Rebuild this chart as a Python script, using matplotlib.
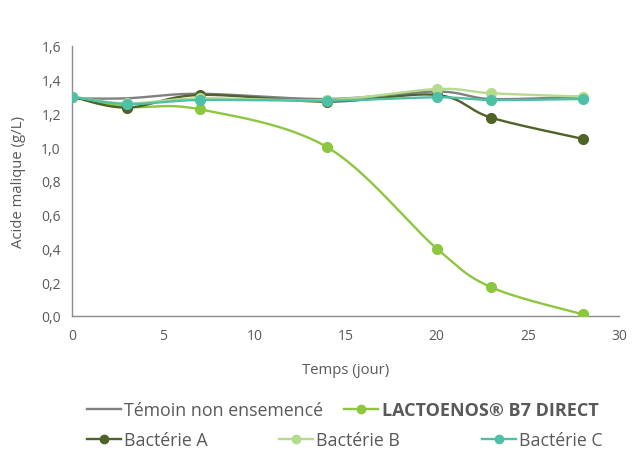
import numpy as np
import matplotlib
matplotlib.use("Agg")
import matplotlib.pyplot as plt
from matplotlib.lines import Line2D

plt.rcParams['font.family'] = ['Open Sans', 'DejaVu Sans']

# data
jours = [0, 3, 7, 14, 20, 23, 28]
temoin = [1.29, 1.29, 1.317, 1.286, 1.33, 1.286, 1.30]
lactoenos = [1.30, 1.24, 1.225, 1.00, 0.40, 0.17, 0.01]
bact_a = [1.30, 1.235, 1.31, 1.27, 1.31, 1.175, 1.05]
bact_b = [1.30, 1.26, 1.29, 1.28, 1.345, 1.32, 1.30]
bact_c = [1.30, 1.256, 1.28, 1.276, 1.296, 1.28, 1.286]

series_names = ["Témoin non ensemencé", "LACTOENOS® B7 DIRECT",
                "Bactérie A", "Bactérie B", "Bactérie C"]
colors = ["#808083", "#8DC63F", "#4F6228", "#B5DB8E", "#4DC0A6"]
text_col = "#595959"


def smooth(x, y, n=30):
    """Excel-like smoothed line (Catmull-Rom as cubic bezier)."""
    x = np.asarray(x, float)
    y = np.asarray(y, float)
    pts = np.column_stack([x, y])
    out = []
    for i in range(len(pts) - 1):
        p0 = pts[i - 1] if i > 0 else pts[i]
        p1 = pts[i]
        p2 = pts[i + 1]
        p3 = pts[i + 2] if i + 2 < len(pts) else pts[i + 1]
        c1 = p1 + (p2 - p0) / 6
        c2 = p2 - (p3 - p1) / 6
        t = np.linspace(0, 1, n)[:, None]
        seg = ((1 - t) ** 3 * p1 + 3 * (1 - t) ** 2 * t * c1
               + 3 * (1 - t) * t ** 2 * c2 + t ** 3 * p2)
        out.append(seg if i == 0 else seg[1:])
    seg = np.vstack(out)
    return seg[:, 0], seg[:, 1]


fig = plt.figure(figsize=(6.32, 4.52), dpi=100)
ax = fig.add_axes([72 / 632, 1 - 317 / 452, 547 / 632, 270 / 452])

all_series = [temoin, lactoenos, bact_a, bact_b, bact_c]
for i, vals in enumerate(all_series):
    sx, sy = smooth(jours, vals)
    ax.plot(sx, sy, color=colors[i], lw=1.7, zorder=2 + i, solid_capstyle='round')
    if i > 0:
        ax.plot(jours, vals, ls='none', marker='o', ms=7, color=colors[i], zorder=2 + i)

ax.set_xlim(0, 30)
ax.set_ylim(0, 1.6)
ax.set_xticks(range(0, 31, 5))
ax.set_yticks(np.arange(0, 1.61, 0.2))
ax.set_yticklabels([("%.1f" % v).replace(".", ",") for v in np.arange(0, 1.61, 0.2)])
ax.tick_params(length=0, labelsize=10, colors=text_col, pad=8)
ax.tick_params(axis='x', pad=9)
for s in ['top', 'right']:
    ax.spines[s].set_visible(False)
for s in ['left', 'bottom']:
    ax.spines[s].set_color("#8c8c8c")
    ax.spines[s].set_linewidth(1.0)

ax.set_xlabel("Temps (jour)", fontsize=10.7, color=text_col, labelpad=13)
ax.set_ylabel("Acide malique (g/L)", fontsize=10.7, color=text_col, labelpad=11)

# legend entries placed like the reference (two rows)
legend_pos = [(87, 411), (344, 411), (87, 441), (279, 441), (482, 441)]
for i, name in enumerate(series_names):
    if i == 0:
        h = Line2D([], [], color=colors[i], lw=1.7)
    else:
        h = Line2D([], [], color=colors[i], lw=1.7, marker='o', ms=6)
    px, py = legend_pos[i]
    leg = fig.legend([h], [name], loc='center left',
                     bbox_to_anchor=(px / 632, 1 - py / 452),
                     frameon=False, borderpad=0, borderaxespad=0,
                     handlelength=1.9, handletextpad=0.2,
                     fontsize=13 if i == 1 else 12.8)
    for t in leg.get_texts():
        t.set_color(text_col)
        if i == 1:
            t.set_fontweight('bold')

fig.savefig("out.png", dpi=100)
